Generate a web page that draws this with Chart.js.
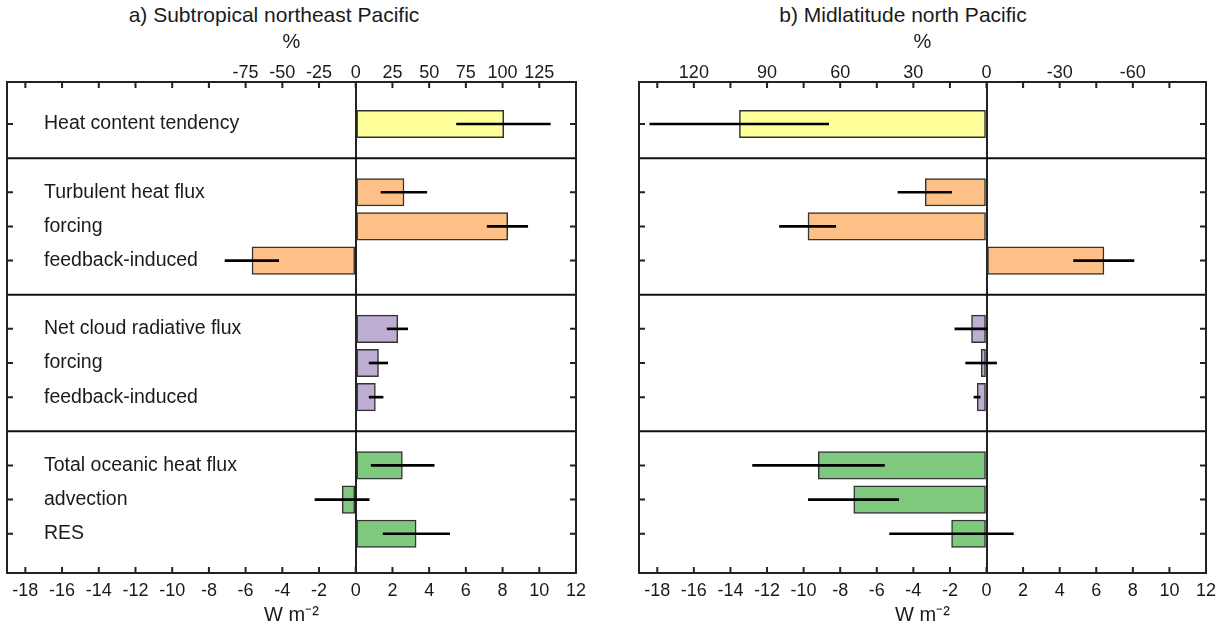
<!DOCTYPE html>
<html>
<head>
<meta charset="utf-8">
<script src="https://cdn.jsdelivr.net/npm/chart.js"></script>
<style>
  html, body { margin: 0; padding: 0; background: #fff; }
  body { width: 1225px; height: 634px; position: relative; overflow: hidden;
         font-family: "Liberation Sans", Arial, Helvetica, sans-serif; color: #1a1a1a; }
  canvas { position: absolute; top: 0; }
  .ttl { position: absolute; top: 2px; font-size: 21px; line-height: 26px; white-space: nowrap;
         transform: translateX(-50%); }
</style>
</head>
<body>
<div class="ttl" style="left:274px">a) Subtropical northeast Pacific</div>
<div class="ttl" style="left:903px">b) Midlatitude north Pacific</div>
<canvas id="chartA" width="612" height="634" style="left:0"></canvas>
<canvas id="chartB" width="613" height="634" style="left:612px"></canvas>
<script>
// row positions (gaps at 2, 6, 10 are the group separators)
const rows = [1, 3, 4, 5, 7, 8, 9, 11, 12, 13];
const separators = [2, 6, 10];
const rowLabels = ['Heat content tendency', 'Turbulent heat flux', 'forcing', 'feedback-induced',
  'Net cloud radiative flux', 'forcing', 'feedback-induced',
  'Total oceanic heat flux', 'advection', 'RES'];
const rowColors = ['#ffff99', '#fdc086', '#fdc086', '#fdc086',
  '#beaed4', '#beaed4', '#beaed4', '#7fc97f', '#7fc97f', '#7fc97f'];

// W m-2
const valuesA = [8.06, 2.63, 8.28, -5.65, 2.29, 1.24, 1.07, 2.54, -0.74, 3.29];
const lowA    = [5.49, 1.38, 7.16, -7.12, 1.71, 0.73, 0.73, 0.84, -2.22, 1.49];
const highA   = [10.6, 3.87, 9.37, -4.20, 2.83, 1.74, 1.49, 4.27, 0.73, 5.12];

const valuesB = [-13.51, -3.35, -9.76, 6.42, -0.82, -0.29, -0.51, -9.20, -7.26, -1.91];
const lowB    = [-18.41, -4.84, -11.32, 4.76, -1.73, -1.14, -0.69, -12.79, -9.74, -5.30];
const highB   = [-8.63, -1.91, -8.25, 8.06, 0.05, 0.55, -0.34, -5.58, -4.80, 1.47];

const bottomTicks = [-18, -16, -14, -12, -10, -8, -6, -4, -2, 0, 2, 4, 6, 8, 10, 12];
const topTicksA = [-6, -4, -2, 0, 2, 4, 6, 8, 10];
const pctLabelsA = ['-75', '-50', '-25', '0', '25', '50', '75', '100', '125'];
const topTicksB = [-16, -12, -8, -4, 0, 4, 8];
const pctLabelsB = ['120', '90', '60', '30', '0', '-30', '-60'];

Chart.defaults.font.family = '"Liberation Sans", Arial, Helvetica, sans-serif';
Chart.defaults.color = '#1a1a1a';

const frame = {
  id: 'frame',
  beforeDatasetsDraw(chart) {
    const { ctx, chartArea: a, scales: { y } } = chart;
    ctx.save();
    ctx.strokeStyle = '#111';
    ctx.lineWidth = 2;
    ctx.beginPath();
    separators.forEach(s => {
      const py = y.getPixelForValue(s);
      ctx.moveTo(a.left, py); ctx.lineTo(a.right, py);
    });
    ctx.stroke();
    ctx.restore();
  },
  afterDatasetsDraw(chart) {
    const { ctx, chartArea: a, scales: { x, y } } = chart;
    ctx.save();
    ctx.strokeStyle = '#222';
    ctx.lineWidth = 2;
    ctx.beginPath();
    bottomTicks.forEach(v => {
      if (v >= 12) return;
      const px = x.getPixelForValue(v);
      ctx.moveTo(px, a.bottom); ctx.lineTo(px, a.bottom - 6);
      ctx.moveTo(px, a.top); ctx.lineTo(px, a.top + 6);
    });
    rows.forEach(r => {
      const py = y.getPixelForValue(r);
      ctx.moveTo(a.left, py); ctx.lineTo(a.left + 6, py);
      ctx.moveTo(a.right, py); ctx.lineTo(a.right - 6, py);
    });
    ctx.stroke();
    ctx.strokeRect(a.left, a.top, a.right - a.left, a.bottom - a.top);
    ctx.restore();
  }
};

function makePanel(id, values, low, high, topTicks, pctLabels, showLabels, pad) {
  new Chart(document.getElementById(id), {
    type: 'bar',
    data: {
      datasets: [
        {
          data: rows.map((r, i) => ({ x: [low[i], high[i]], y: r })),
          backgroundColor: '#000',
          barThickness: 2,
          grouped: false,
          order: 0
        },
        {
          data: rows.map((r, i) => ({ x: values[i], y: r })),
          backgroundColor: rowColors,
          borderColor: '#333',
          borderWidth: 1.5,
          borderSkipped: false,
          barThickness: 27.5,
          grouped: false,
          order: 1
        }
      ]
    },
    options: {
      indexAxis: 'y',
      responsive: false,
      animation: false,
      devicePixelRatio: 1,
      layout: { padding: pad },
      plugins: { legend: { display: false }, tooltip: { enabled: false } },
      scales: {
        x: {
          type: 'linear', position: 'bottom', min: -19, max: 12,
          afterBuildTicks: s => { s.ticks = bottomTicks.map(v => ({ value: v })); },
          afterFit: s => { s.height = 61; },
          grid: { drawTicks: false, lineWidth: 2, color: c => c.tick && c.tick.value === 0 ? '#222' : 'rgba(0,0,0,0)' },
          border: { display: false },
          ticks: { autoSkip: false, maxRotation: 0, padding: 7, font: { size: 18 } },
          title: { display: true, text: 'W m\u207B\u00B2', font: { size: 20 }, padding: { top: 0, bottom: 7 } }
        },
        x2: {
          type: 'linear', axis: 'x', position: 'top', min: -19, max: 12,
          afterBuildTicks: s => { s.ticks = topTicks.map(v => ({ value: v })); },
          afterFit: s => { s.height = 82; },
          grid: { display: false, drawTicks: false },
          border: { display: false },
          ticks: { autoSkip: false, maxRotation: 0, padding: -2, font: { size: 18 },
                   callback: (v, i) => pctLabels[i] },
          title: { display: true, text: '%', font: { size: 20 }, padding: { top: 30, bottom: 0 } }
        },
        y: {
          type: 'linear', position: 'left', min: -0.23, max: 14.15, reverse: true, offset: false,
          afterBuildTicks: s => { s.ticks = rows.map(v => ({ value: v })); },
          afterFit: s => { s.width = 0; },
          grid: { display: false, drawTicks: false },
          border: { display: false },
          ticks: { mirror: true, autoSkip: false, padding: 37, font: { size: 19.5 },
                   callback: v => showLabels ? rowLabels[rows.indexOf(v)] : '' }
        }
      }
    },
    plugins: [frame]
  });
}

makePanel('chartA', valuesA, lowA, highA, topTicksA, pctLabelsA, true, { left: 7, right: 36, top: 0, bottom: 0 });
makePanel('chartB', valuesB, lowB, highB, topTicksB, pctLabelsB, false, { left: 27, right: 19, top: 0, bottom: 0 });
</script>
</body>
</html>
